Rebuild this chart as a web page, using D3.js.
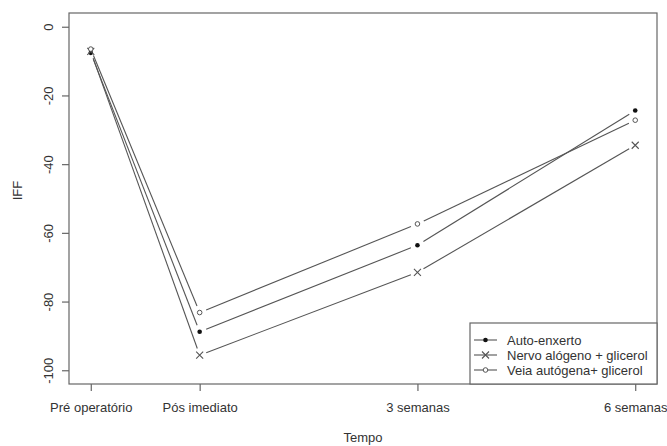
<!DOCTYPE html>
<html>
<head>
<meta charset="utf-8">
<script src="https://cdn.jsdelivr.net/npm/d3@7"></script>
<style>
  body { margin: 0; background: #fff; }
  text { font-family: "Liberation Sans", Arial, sans-serif; fill: #333; }
</style>
</head>
<body>
<div id="chart"></div>
<script>
// data
var tempos = ["Pré operatório", "Pós imediato", "3 semanas", "6 semanas"];
var tempoPos = [0, 1, 3, 5];
var autoEnxerto = [-7.6, -88.8, -63.6, -24.4];
var nervoAlogeno = [-7.2, -95.6, -71.5, -34.5];
var veiaAutogena = [-6.5, -83.2, -57.4, -27.2];
var yTicks = [0, -20, -40, -60, -80, -100];
var series = [
  { name: "Auto-enxerto", values: autoEnxerto, pch: "dot" },
  { name: "Nervo alógeno + glicerol", values: nervoAlogeno, pch: "cross" },
  { name: "Veia autógena+ glicerol", values: veiaAutogena, pch: "open" }
];

// set margins
var W = 667, H = 446;
var margin = { left: 69, right: 10, top: 13, bottom: 62 },
    width = W - margin.left - margin.right,
    height = H - margin.top - margin.bottom;

var svg = d3.select("#chart").append("svg")
    .attr("width", W)
    .attr("height", H);
var g = svg.append("g")
    .attr("transform", "translate(" + margin.left + "," + margin.top + ")");

var x = d3.scaleLinear().domain([-0.2, 5.2]).range([0, width]);
var y = d3.scaleLinear().domain([-104, 4]).range([height, 0]);

var lineCol = "#555";
var fs = "13px";

// box
g.append("rect")
    .attr("width", width).attr("height", height)
    .attr("fill", "none").attr("stroke", "#666").attr("stroke-width", 1.2);

// x axis
var xAxis = g.append("g")
    .attr("transform", "translate(0," + height + ")")
    .call(d3.axisBottom(x).tickValues(tempoPos)
        .tickFormat(function(d, i) { return tempos[i]; })
        .tickSize(7).tickPadding(12));
xAxis.select(".domain").remove();
xAxis.selectAll("line").attr("stroke", "#666").attr("stroke-width", 1.2);
xAxis.selectAll("text").attr("font-size", fs).attr("fill", "#333")
    .style("font-family", "Liberation Sans, Arial, sans-serif");

// y axis
var yAxis = g.append("g")
    .call(d3.axisLeft(y).tickValues(yTicks).tickSize(7).tickFormat(function(d) { return d; }));
yAxis.select(".domain").remove();
yAxis.selectAll("line").attr("stroke", "#666").attr("stroke-width", 1.2);
yAxis.selectAll("text")
    .attr("font-size", fs).attr("fill", "#333")
    .style("font-family", "Liberation Sans, Arial, sans-serif")
    .attr("text-anchor", "middle")
    .attr("x", 0).attr("dy", 0)
    .attr("transform", "translate(-16,0) rotate(-90)");

// axis titles
g.append("text")
    .attr("x", (x(-0.2) + x(5.2)) / 2)
    .attr("y", height + 58)
    .attr("text-anchor", "middle")
    .attr("font-size", fs)
    .text("Tempo");
g.append("text")
    .attr("transform", "translate(" + (-47) + "," + (height / 2 - 8) + ") rotate(-90)")
    .attr("text-anchor", "middle")
    .attr("font-size", fs)
    .text("IFF");

// lines with gaps (type = "b")
var gap = 7;
function drawSymbol(sel, pch, cx, cy) {
  if (pch == "dot") {
    sel.append("circle").attr("cx", cx).attr("cy", cy).attr("r", 2.3).attr("fill", "#111");
  } else if (pch == "open") {
    sel.append("circle").attr("cx", cx).attr("cy", cy).attr("r", 2.3)
      .attr("fill", "#fff").attr("stroke", "#555").attr("stroke-width", 1);
  } else {
    var s = 3.5;
    sel.append("path")
      .attr("d", "M" + (cx - s) + "," + (cy - s) + "L" + (cx + s) + "," + (cy + s) +
                 "M" + (cx - s) + "," + (cy + s) + "L" + (cx + s) + "," + (cy - s))
      .attr("stroke", "#555").attr("stroke-width", 1.1);
  }
}

series.forEach(function(s) {
  var sg = g.append("g");
  var pts = s.values.map(function(v, i) { return [x(tempoPos[i]), y(v)]; });
  for (var i = 0; i < pts.length - 1; i++) {
    var a = pts[i], b = pts[i + 1];
    var dx = b[0] - a[0], dy = b[1] - a[1], len = Math.sqrt(dx * dx + dy * dy);
    var ux = dx / len, uy = dy / len;
    sg.append("line")
      .attr("x1", a[0] + ux * gap).attr("y1", a[1] + uy * gap)
      .attr("x2", b[0] - ux * gap).attr("y2", b[1] - uy * gap)
      .attr("stroke", lineCol).attr("stroke-width", 1.1);
  }
  pts.forEach(function(p) { drawSymbol(sg, s.pch, p[0], p[1]); });
});

// legend
var lgW = 187, lgH = 61;
var legend = g.append("g")
    .attr("transform", "translate(" + (width - lgW) + "," + (height - lgH) + ")");
legend.append("rect")
    .attr("width", lgW).attr("height", lgH)
    .attr("fill", "#fff").attr("stroke", "#666").attr("stroke-width", 1.2);
series.forEach(function(s, i) {
  var ry = 17 + i * 15;
  legend.append("line")
    .attr("x1", 4).attr("x2", 27).attr("y1", ry).attr("y2", ry)
    .attr("stroke", lineCol).attr("stroke-width", 1.1);
  drawSymbol(legend, s.pch, 15.5, ry);
  legend.append("text")
    .attr("x", 37).attr("y", ry + 4.5)
    .attr("font-size", fs)
    .text(s.name);
});
</script>
</body>
</html>
